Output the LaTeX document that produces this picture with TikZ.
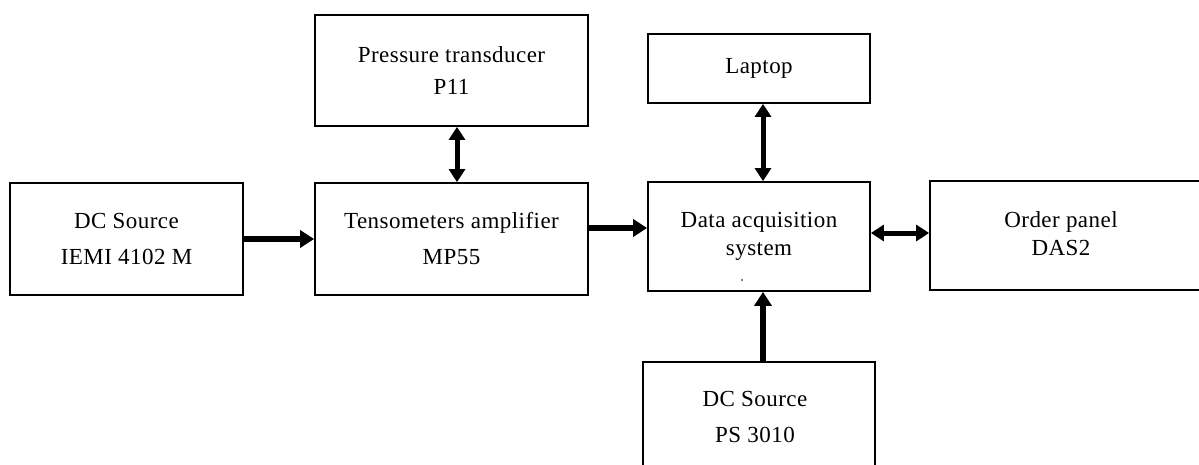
\documentclass[tikz,border=0pt]{standalone}
\usepackage{fontspec}
\setmainfont[LetterSpace=2]{Liberation Serif}
\usetikzlibrary{arrows.meta}
\begin{document}
\begin{tikzpicture}[x=1pt,y=-1pt,
  box/.style={draw, line width=1.8pt, inner sep=0pt, align=center},
  txt/.style={font=\fontsize{23}{36}\selectfont},
  txtb/.style={font=\fontsize{23}{28}\selectfont},
  txtc/.style={font=\fontsize{23}{32}\selectfont},
  onearrow/.style={line width=6pt, -{Triangle[length=14pt,width=17pt]}},
  twoarrow/.style={line width=5pt, {Triangle[length=13pt,width=16pt]}-{Triangle[length=13pt,width=16pt]}}]
\useasboundingbox (0,0) rectangle (1199,465);
\clip (0,0) rectangle (1199,465);
\node[box, txt, minimum width=233pt, minimum height=112pt] (dc1) at (126.5,239) {DC Source\\IEMI 4102 M};
\node[box, txt, minimum width=273pt, minimum height=112pt] (tens) at (451.5,239) {Tensometers amplifier\\MP55};
\node[box, txtc, minimum width=273pt, minimum height=111pt] (pres) at (451.5,70.5) {Pressure transducer\\P11};
\node[box, txt, minimum width=222pt, minimum height=69pt] (lap) at (759,68.5) {Laptop};
\node[box, txtb, minimum width=222pt, minimum height=109pt] (daq) at (759,236.5) {Data acquisition\\system};
\node[box, minimum width=285pt, minimum height=109pt,
  label={[txtb, align=center, xshift=-11.5pt, yshift=2pt]center:Order panel\\DAS2}] (order) at (1072.5,235.5) {};
\node[box, minimum width=232pt, minimum height=128pt,
  label={[txt, align=center, xshift=-4pt, yshift=9pt]center:DC Source\\PS 3010}] (ps) at (759,426) {};
\fill (742,280) circle (0.8pt);
\draw[onearrow] (dc1.east) -- (tens.west);
\draw[onearrow] ([yshift=11pt]tens.east) -- ([yshift=8.5pt]daq.west);
\draw[twoarrow] ([xshift=5.5pt]pres.south) -- ([xshift=5.5pt]tens.north);
\draw[twoarrow] ([xshift=4pt]lap.south) -- ([xshift=4pt]daq.north);
\draw[twoarrow] ([yshift=3.5pt]daq.east) -- ([yshift=2.5pt]order.west);
\draw[onearrow] ([xshift=4pt]ps.north) -- ([xshift=4pt]daq.south);
\end{tikzpicture}
\end{document}
